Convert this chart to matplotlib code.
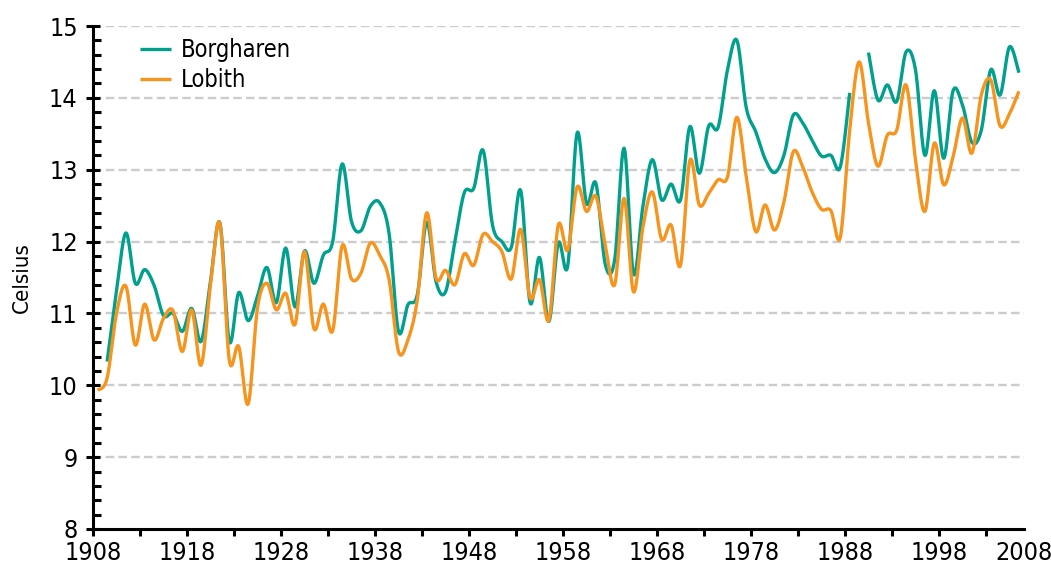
import numpy as np
import matplotlib
matplotlib.use("Agg")
import matplotlib.pyplot as plt
from matplotlib.ticker import MultipleLocator, FixedLocator

plt.rcParams['font.family'] = ['DejaVu Sans']
plt.rcParams['font.stretch'] = 'condensed'

# yearly mean temperatures (Celsius)
lobith_years = np.arange(1908, 2007)
lobith = [9.93, 10.10, 11.00, 11.38, 10.56, 11.13, 10.63, 10.93, 11.04, 10.47,
          11.05, 10.28, 11.40, 12.25, 10.35, 10.54, 9.74, 11.08, 11.42, 11.05,
          11.28, 10.85, 11.86, 10.79, 11.13, 10.76, 11.94, 11.48, 11.56, 11.98,
          11.81, 11.47, 10.47, 10.63, 11.19, 12.40, 11.49, 11.60, 11.40, 11.83,
          11.67, 12.10, 12.00, 11.86, 11.48, 12.17, 11.22, 11.47, 10.91, 12.23,
          11.88, 12.76, 12.42, 12.63, 11.95, 11.40, 12.60, 11.30, 12.20, 12.69,
          12.03, 12.23, 11.67, 13.13, 12.51, 12.67, 12.86, 12.90, 13.73, 12.90,
          12.14, 12.51, 12.16, 12.55, 13.25, 13.04, 12.69, 12.45, 12.43, 12.06,
          13.55, 14.50, 13.65, 13.05, 13.48, 13.55, 14.18, 13.14, 12.42, 13.37,
          12.79, 13.18, 13.72, 13.23, 14.04, 14.25, 13.61, 13.78, 14.09]

borgharen_years = np.arange(1909, 2007)
borgharen = [10.33, 11.30, 12.12, 11.42, 11.61, 11.39, 10.97, 11.00, 10.75,
             11.07, 10.61, 11.45, 12.26, 10.61, 11.29, 10.90, 11.24, 11.64, 11.15,
             11.91, 11.09, 11.87, 11.42, 11.81, 12.00, 13.08, 12.28, 12.15, 12.49,
             12.54, 12.11, 10.75, 11.12, 11.26, 12.27, 11.44, 11.30, 12.00, 12.68,
             12.74, 13.27, 12.23, 12.00, 11.92, 12.71, 11.15, 11.78, 10.89, 11.98,
             11.66, 13.51, 12.53, 12.81, 11.68, 11.75, 13.30, 11.55, 12.49, 13.14,
             12.58, 12.80, 12.58, 13.60, 12.95, 13.61, 13.59, 14.39, 14.80, 13.86,
             13.53, 13.15, 12.96, 13.20, 13.76, 13.65, 13.41, 13.19, 13.20, 13.04,
             14.07, np.nan, 14.63, 13.97, 14.18, 13.95, 14.64, 14.39, 13.20, 14.10,
             13.16, 14.10, 13.90, 13.38, 13.55, 14.39, 14.04, 14.71, 14.35]

teal = '#00a08e'
orange = '#f7941d'


def catmull_rom(x, y, n=16):
    # smooth curve through the points (cardinal spline, tension 0)
    x = np.asarray(x, float)
    y = np.asarray(y, float)
    if len(x) < 2:
        return x, y
    px = np.concatenate([[x[0]], x, [x[-1]]])
    py = np.concatenate([[y[0]], y, [y[-1]]])
    t = np.linspace(0, 1, n, endpoint=False)
    outx, outy = [], []
    for i in range(1, len(px) - 2):
        for p, out in ((px, outx), (py, outy)):
            p0, p1, p2, p3 = p[i - 1], p[i], p[i + 1], p[i + 2]
            out.append(0.5 * (2 * p1 + (-p0 + p2) * t
                              + (2 * p0 - 5 * p1 + 4 * p2 - p3) * t ** 2
                              + (-p0 + 3 * p1 - 3 * p2 + p3) * t ** 3))
    outx.append([x[-1]])
    outy.append([y[-1]])
    return np.concatenate(outx), np.concatenate(outy)


def draw(ax, years, vals, color, label):
    x = np.asarray(years) + 0.5
    v = np.asarray(vals, float)
    ok = ~np.isnan(v)
    # split into runs without gaps
    idx = np.where(ok)[0]
    runs = np.split(idx, np.where(np.diff(idx) > 1)[0] + 1)
    first = True
    for r in runs:
        sx, sy = catmull_rom(x[r], v[r])
        ax.plot(sx, sy, color=color, lw=2.4, solid_capstyle='butt',
                label=label if first else None)
        first = False


fig = plt.figure(figsize=(10.51, 5.65), dpi=100)
ax = fig.add_axes([93 / 1051, 36 / 565, (1024 - 93) / 1051, (529 - 26) / 565])

xmax = 1908 + (1024 - 93) / 9.4
ax.set_xlim(1908, xmax)
ax.set_ylim(8, 15)

for y in range(9, 16):
    ax.axhline(y, color='#cccccc', lw=1.7, ls=(0, (3.6, 1.8)), zorder=1)

draw(ax, borgharen_years, borgharen, teal, 'Borgharen')
draw(ax, lobith_years, lobith, orange, 'Lobith')

for s in ['top', 'right']:
    ax.spines[s].set_visible(False)
for s in ['left', 'bottom']:
    ax.spines[s].set_linewidth(2.2)
    ax.spines[s].set_color('black')

xt = list(range(1908, 2000, 10)) + [xmax]
ax.xaxis.set_major_locator(FixedLocator(xt))
ax.set_xticklabels([str(v) for v in range(1908, 2000, 10)] + ['2008'])
ax.xaxis.set_minor_locator(FixedLocator(list(range(1913, 2007, 10))))
ax.tick_params(axis='x', which='both', direction='out', length=5, width=2.2,
               labelsize=18, pad=4)
ax.xaxis.get_major_ticks()[-1].tick1line.set_visible(False)

ax.yaxis.set_major_locator(MultipleLocator(1))
ax.yaxis.set_minor_locator(MultipleLocator(0.2))
ax.tick_params(axis='y', which='major', direction='inout', length=10, width=2.2,
               labelsize=18, pad=6)
ax.tick_params(axis='y', which='minor', direction='in', length=6, width=2.2)
ax.set_ylabel('Celsius', fontsize=16, labelpad=12)

leg = ax.legend(loc='upper left', bbox_to_anchor=(140 / 1051, 1 - 38 / 565),
                bbox_transform=fig.transFigure, frameon=False, fontsize=17,
                handlelength=1.3, handletextpad=0.45, labelspacing=0.25,
                borderpad=0, borderaxespad=0)

fig.savefig('out.png', dpi=100)
